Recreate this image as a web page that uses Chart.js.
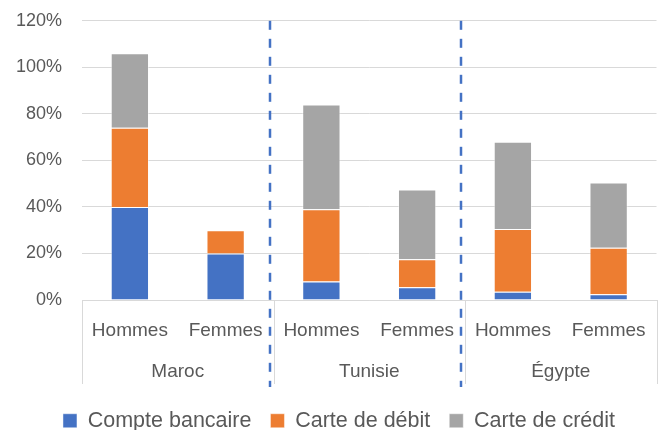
<!DOCTYPE html>
<html>
<head>
<meta charset="utf-8">
<script src="https://cdn.jsdelivr.net/npm/chart.js@4.4.1/dist/chart.umd.min.js"></script>
<style>
  html, body { margin: 0; padding: 0; background: #fff; overflow: hidden; }
  #wrap { position: relative; top: -10px; width: 665px; height: 440px; }
</style>
</head>
<body>
<div id="wrap"><canvas id="chart"></canvas></div>
<script>
// data (percent)
var categories = ['Hommes', 'Femmes', 'Hommes', 'Femmes', 'Hommes', 'Femmes'];
var countries = ['Maroc', 'Tunisie', 'Égypte'];
var compteBancaire = [40, 20, 8, 5.5, 3.5, 2.5];
var carteDebit = [34, 10, 31, 12, 27, 20];
var carteCredit = [32, null, 45, 30, 37.5, 28];
var seriesNames = ['Compte bancaire', 'Carte de débit', 'Carte de crédit'];
var seriesColors = ['#4472C4', '#ED7D31', '#A5A5A5'];

var textColor = '#595959';
var gridColor = '#D9D9D9';
var font = "'Liberation Sans', Arial, sans-serif";

// group separators under the axis + dashed dividers between countries
var groupLines = {
    id: 'groupLines',
    beforeDraw: function (chart) {
        // legend sits a little right of centre in the original
        chart.legend.left += 9;
        chart.legend.right += 9;
    },
    afterDraw: function (chart) {
        var ctx = chart.ctx;
        var x = chart.scales.x;
        var x2 = chart.scales.x2;
        var area = chart.chartArea;
        var edges = [x2.left];
        for (var i = 1; i < countries.length; i++) {
            edges.push((x2.getPixelForValue(i - 1) + x2.getPixelForValue(i)) / 2);
        }
        edges.push(x2.right);

        ctx.save();
        ctx.strokeStyle = gridColor;
        ctx.lineWidth = 1;
        edges.forEach(function (px) {
            ctx.beginPath();
            ctx.moveTo(Math.round(px) + 0.5, x.top);
            ctx.lineTo(Math.round(px) + 0.5, x2.top + 44);
            ctx.stroke();
        });

        ctx.strokeStyle = '#4472C4';
        ctx.lineWidth = 2.5;
        ctx.setLineDash([9, 9]);
        for (var j = 1; j < edges.length - 1; j++) {
            var dx = Math.round(edges[j]) - 4;
            ctx.beginPath();
            ctx.moveTo(dx, area.top);
            ctx.lineTo(dx, x2.top + 47);
            ctx.stroke();
        }
        ctx.restore();
    }
};

var datasets = [compteBancaire, carteDebit, carteCredit].map(function (d, i) {
    return {
        label: seriesNames[i],
        data: d,
        backgroundColor: seriesColors[i],
        borderColor: 'rgba(255,255,255,0.45)',
        borderWidth: 1,
        categoryPercentage: 0.4,
        barPercentage: 1
    };
});

new Chart(document.getElementById('chart').getContext('2d'), {
    type: 'bar',
    data: { labels: categories, datasets: datasets },
    plugins: [groupLines],
    options: {
        responsive: true,
        maintainAspectRatio: false,
        animation: false,
        layout: { padding: { top: 0, right: 5, left: 0, bottom: -11.5 } },
        plugins: {
            tooltip: { enabled: false },
            legend: {
                position: 'bottom',
                labels: {
                    color: textColor,
                    font: { family: font, size: 21.5 },
                    boxWidth: 14,
                    boxHeight: 14,
                    padding: 19
                }
            }
        },
        scales: {
            x: {
                stacked: true,
                grid: { display: false, drawTicks: false },
                border: { display: true, color: gridColor },
                ticks: { color: textColor, font: { family: font, size: 19 }, padding: 19, maxRotation: 0 },
                afterFit: function (s) { s.height = 40; }
            },
            x2: {
                type: 'category',
                position: 'bottom',
                weight: 1,
                labels: countries,
                offset: true,
                grid: { display: false, drawTicks: false },
                border: { display: false },
                ticks: { color: textColor, font: { family: font, size: 19 }, padding: 20, maxRotation: 0 },
                afterFit: function (s) { s.height = 51; }
            },
            y: {
                stacked: true,
                min: 0,
                max: 120,
                ticks: {
                    stepSize: 20,
                    color: textColor,
                    font: { family: font, size: 18 },
                    padding: 20,
                    callback: function (v) { return v + '%'; }
                },
                grid: { color: gridColor, drawTicks: false },
                border: { display: false },
                afterFit: function (s) { s.width = 82; }
            }
        }
    }
});
</script>
</body>
</html>
